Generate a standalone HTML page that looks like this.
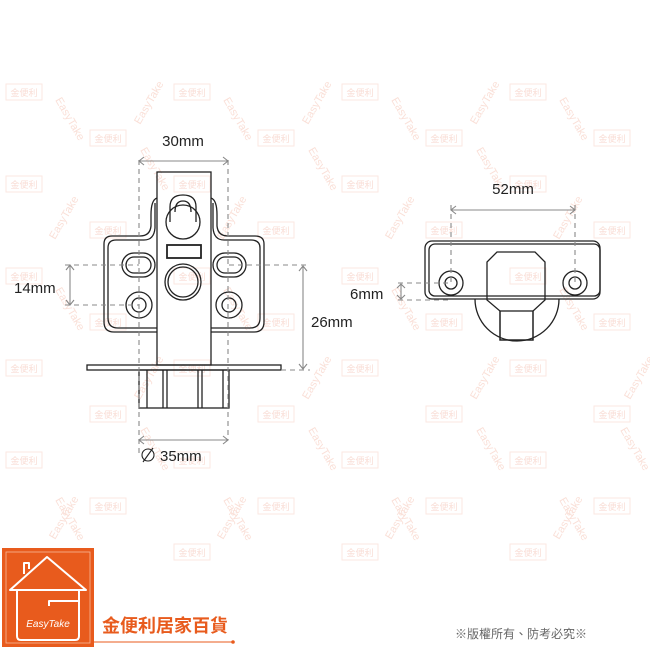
<!DOCTYPE html>
<html><head><meta charset="utf-8"><style>
html,body{margin:0;padding:0;background:#fff;}
svg{display:block;}
</style></head><body>
<svg width="650" height="650" viewBox="0 0 650 650" xmlns="http://www.w3.org/2000/svg">
<defs>
<g id="wm"><rect x="0" y="-8" width="36" height="16" fill="none" stroke="#fbe7e2" stroke-width="1"/><text x="18" y="4" font-size="9" fill="#f9ddd5" text-anchor="middle" font-family="'Liberation Sans','Noto Sans CJK TC',sans-serif">金便利</text></g>
<g id="et"><text x="0" y="0" font-size="11" fill="#fae0d8" font-family="'Liberation Sans',sans-serif" transform="rotate(60)">EasyTake</text></g>
<g id="et2"><text x="0" y="0" font-size="11" fill="#fae0d8" font-family="'Liberation Sans',sans-serif" transform="rotate(-60)">EasyTake</text></g>
</defs>
<g>
<use href="#wm" x="6" y="92"/><use href="#wm" x="174" y="92"/><use href="#wm" x="342" y="92"/><use href="#wm" x="510" y="92"/>
<use href="#wm" x="90" y="138"/><use href="#wm" x="258" y="138"/><use href="#wm" x="426" y="138"/><use href="#wm" x="594" y="138"/>
<use href="#wm" x="6" y="184"/><use href="#wm" x="174" y="184"/><use href="#wm" x="342" y="184"/><use href="#wm" x="510" y="184"/>
<use href="#wm" x="90" y="230"/><use href="#wm" x="258" y="230"/><use href="#wm" x="426" y="230"/><use href="#wm" x="594" y="230"/>
<use href="#wm" x="6" y="276"/><use href="#wm" x="174" y="276"/><use href="#wm" x="342" y="276"/><use href="#wm" x="510" y="276"/>
<use href="#wm" x="90" y="322"/><use href="#wm" x="258" y="322"/><use href="#wm" x="426" y="322"/><use href="#wm" x="594" y="322"/>
<use href="#wm" x="6" y="368"/><use href="#wm" x="174" y="368"/><use href="#wm" x="342" y="368"/><use href="#wm" x="510" y="368"/>
<use href="#wm" x="90" y="414"/><use href="#wm" x="258" y="414"/><use href="#wm" x="426" y="414"/><use href="#wm" x="594" y="414"/>
<use href="#wm" x="6" y="460"/><use href="#wm" x="174" y="460"/><use href="#wm" x="342" y="460"/><use href="#wm" x="510" y="460"/>
<use href="#wm" x="90" y="506"/><use href="#wm" x="258" y="506"/><use href="#wm" x="426" y="506"/><use href="#wm" x="594" y="506"/>
<use href="#wm" x="174" y="552"/><use href="#wm" x="342" y="552"/><use href="#wm" x="510" y="552"/>
<use href="#et" x="55" y="100"/><use href="#et" x="223" y="100"/><use href="#et" x="391" y="100"/><use href="#et" x="559" y="100"/>
<use href="#et2" x="140" y="125"/><use href="#et2" x="308" y="125"/><use href="#et2" x="476" y="125"/>
<use href="#et" x="140" y="150"/><use href="#et" x="308" y="150"/><use href="#et" x="476" y="150"/>
<use href="#et2" x="55" y="240"/><use href="#et2" x="223" y="240"/><use href="#et2" x="391" y="240"/><use href="#et2" x="559" y="240"/>
<use href="#et" x="55" y="290"/><use href="#et" x="223" y="290"/><use href="#et" x="391" y="290"/><use href="#et" x="559" y="290"/>
<use href="#et2" x="140" y="400"/><use href="#et2" x="308" y="400"/><use href="#et2" x="476" y="400"/><use href="#et2" x="630" y="400"/>
<use href="#et" x="140" y="430"/><use href="#et" x="308" y="430"/><use href="#et" x="476" y="430"/><use href="#et" x="620" y="430"/>
<use href="#et2" x="55" y="540"/><use href="#et2" x="223" y="540"/><use href="#et2" x="391" y="540"/><use href="#et2" x="559" y="540"/>
<use href="#et" x="55" y="500"/><use href="#et" x="223" y="500"/><use href="#et" x="391" y="500"/><use href="#et" x="559" y="500"/>
</g>

<!-- Left drawing -->
<g fill="none" stroke="#222" stroke-width="1.3">
<path d="M157,198 Q151,200 151,215 L151,226 Q150,236 140,236 L112,236 Q104,236 104,244 L104,322 Q104,332 114,332 L157,332"/>
<path d="M211,198 Q217,200 217,215 L217,226 Q218,236 228,236 L255,236 Q264,236 264,244 L264,322 Q264,332 254,332 L211,332"/>
<path d="M155,203 L155,228 Q154,240 144,240 L116,240 Q108,240 108,248 L108,318 Q108,328 118,328 L157,328"/>
<path d="M213,203 L213,228 Q214,240 224,240 L251,240 Q260,240 260,248 L260,318 Q260,328 250,328 L211,328"/>
<rect x="157" y="172" width="54" height="193"/>
<rect x="87" y="365" width="194" height="5"/>
<rect x="139" y="370" width="90" height="38"/>
<line x1="147" y1="370" x2="147" y2="408"/><line x1="163" y1="370" x2="163" y2="408"/><line x1="167" y1="370" x2="167" y2="408"/>
<line x1="198" y1="370" x2="198" y2="408"/><line x1="202" y1="370" x2="202" y2="408"/><line x1="223" y1="370" x2="223" y2="408"/>
<rect x="122" y="253" width="33" height="24" rx="12"/><rect x="126" y="257" width="25" height="16" rx="8"/>
<rect x="213" y="253" width="33" height="24" rx="12"/><rect x="217" y="257" width="25" height="16" rx="8"/>
<circle cx="139" cy="305" r="13"/><circle cx="139" cy="305" r="7"/>
<circle cx="229" cy="305" r="13"/><circle cx="229" cy="305" r="7"/>
<circle cx="183" cy="282" r="18"/><circle cx="183" cy="282" r="15"/>
<rect x="167" y="245" width="34" height="13" stroke-width="1.8"/>
<path d="M170,222 L170,207 Q170,195 183,195 Q196,195 196,207 L196,222"/>
<path d="M175,212 Q175,201 183,201 Q191,201 191,212"/>
<circle cx="183" cy="222" r="17"/>
</g>
<g fill="none" stroke="#888" stroke-width="1.1">
<g stroke-dasharray="5,4">
<line x1="139" y1="160" x2="139" y2="455"/><line x1="228" y1="160" x2="228" y2="440"/>
<line x1="65" y1="265" x2="139" y2="265"/><line x1="65" y1="305" x2="139" y2="305"/>
<line x1="229" y1="265" x2="310" y2="265"/><line x1="281" y1="370" x2="310" y2="370"/>
</g>
<path d="M139,161 L228,161 M144,157 L139,161 L144,165 M223,157 L228,161 L223,165"/>
<path d="M139,440 L228,440 M144,436 L139,440 L144,444 M223,436 L228,440 L223,444"/>
<path d="M70,265 L70,305 M66,270 L70,265 L74,270 M66,300 L70,305 L74,300"/>
<path d="M303,266 L303,369 M299,271 L303,266 L307,271 M299,364 L303,369 L307,364"/>
</g>
<g font-family="'Liberation Sans',sans-serif" font-size="15" fill="#222">
<text x="183" y="146" text-anchor="middle">30mm</text>
<text x="14" y="293">14mm</text>
<text x="311" y="327">26mm</text>
<text x="160" y="461">35mm</text>
<text x="513" y="194" text-anchor="middle">52mm</text>
<text x="350" y="299">6mm</text>
</g>
<g fill="none" stroke="#222" stroke-width="1.1"><circle cx="148" cy="455" r="6"/><line x1="143" y1="462" x2="153" y2="448"/></g>

<!-- Right drawing -->
<g fill="none" stroke="#222" stroke-width="1.3">
<path d="M475,299 A42,42 0 0 0 559,299"/>
<rect x="425" y="241" width="175" height="58" rx="7"/>
<rect x="429" y="244" width="171" height="52" rx="6"/>
<path d="M497,252 L535,252 L545,262 L545,300 L533,311 L533,340 L500,340 L500,311 L487,300 L487,262 Z"/>
<rect x="500" y="311" width="33" height="29"/>
<circle cx="451" cy="283" r="12"/><circle cx="451" cy="283" r="6"/>
<circle cx="575" cy="283" r="12"/><circle cx="575" cy="283" r="6"/>
</g>
<g fill="none" stroke="#888" stroke-width="1.1">
<g stroke-dasharray="5,4">
<line x1="451" y1="205" x2="451" y2="283"/><line x1="575" y1="205" x2="575" y2="283"/>
<line x1="398" y1="283" x2="451" y2="283"/><line x1="398" y1="300" x2="451" y2="300"/>
</g>
<path d="M451,210 L575,210 M456,206 L451,210 L456,214 M570,206 L575,210 L570,214"/>
<path d="M401,284 L401,299 M397,288 L401,284 L405,288 M397,295 L401,299 L405,295"/>
</g>

<!-- Logo -->
<rect x="2" y="548" width="92" height="99" fill="#e85b1d"/>
<rect x="6" y="552" width="84" height="91" fill="none" stroke="#f6b89a" stroke-width="0.8"/>
<g fill="none" stroke="#fff" stroke-width="2" stroke-linejoin="round">
<path d="M10,590 L47,557 L86,590 Z"/>
<path d="M24,574 L24,563 L29,563 L29,569"/>
<path d="M17,590 L17,636 Q17,640 21,640 L75,640 Q79,640 79,636 L79,590"/>
<path d="M49,606 L49,601 L79,601"/>
</g>
<text x="48" y="627" text-anchor="middle" font-family="'Liberation Sans',sans-serif" font-style="italic" font-size="10" fill="#fff">EasyTake</text>
<text x="102" y="632" font-family="'Liberation Sans','Noto Sans CJK TC',sans-serif" font-weight="bold" font-size="18" fill="#e85b1d">金便利居家百貨</text>
<line x1="94" y1="642" x2="233" y2="642" stroke="#e85b1d" stroke-width="1"/>
<circle cx="233" cy="642" r="1.8" fill="#e85b1d"/>
<text x="455" y="638" font-family="'Liberation Sans','Noto Sans CJK TC',sans-serif" font-size="12" fill="#666">※版權所有、防考必究※</text>
</svg>
</body></html>
